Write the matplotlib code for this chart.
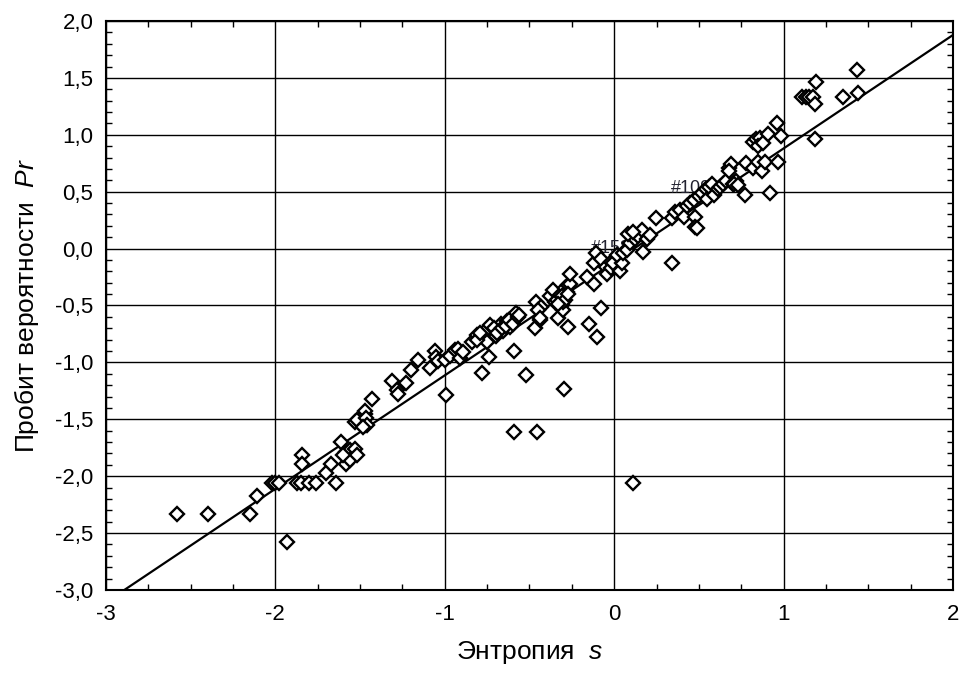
import numpy as np
import matplotlib.pyplot as plt
from matplotlib.ticker import MultipleLocator, FuncFormatter

plt.rcParams['font.family'] = ['Liberation Sans', 'DejaVu Sans']
plt.rcParams['mathtext.fontset'] = 'custom'
plt.rcParams['mathtext.it'] = 'Liberation Sans:italic'
plt.rcParams['mathtext.rm'] = 'Liberation Sans'

# entropy s (x) and probit Pr (y)
s = [-2.58, -2.40, -2.15, -2.11, -1.93,
     -2.02, -2.00, -1.98, -1.87, -1.85, -1.80, -1.76, -1.64,
     -1.84, -1.84, -1.70, -1.67,
     -1.61, -1.58, -1.56, -1.53, -1.58, -1.56, -1.52, -1.60,
     -1.53, -1.52, -1.47, -1.47, -1.47, -1.465, -1.46, -1.48,
     -1.43,
     -1.31, -1.28, -1.275, -1.23, -1.20, -1.16, -1.09,
     -1.06, -1.05, -1.04, -0.99,
     -1.00, -0.97, -0.94, -0.92, -0.91, -0.89,
     -0.84, -0.81, -0.77, -0.75, -0.74, -0.78,
     -0.73, -0.70, -0.67, -0.655, -0.635, -0.615, -0.60, -0.58,
     -0.59, -0.59,
     -0.81, -0.79, -0.71, -0.69, -0.66, -0.64, -0.62, -0.60, -0.57, -0.56,
     -0.52, -0.47, -0.44, -0.46, -0.43, -0.45, -0.455, -0.44,
     -0.38, -0.36, -0.35, -0.33,
     -0.34, -0.32, -0.31, -0.30, -0.29, -0.28, -0.27, -0.26, -0.29,
     -0.275, -0.295, -0.26,
     -0.31, -0.30, -0.33, -0.27,
     -0.16, -0.15, -0.12, -0.10, -0.08,
     -0.12, -0.11, -0.08, -0.05, -0.04, -0.02, 0.005,
     -0.016, -0.006, 0.034, 0.044, 0.014, 0.053, 0.073, 0.093, 0.123, 0.142,
     0.162, 0.172, 0.192, 0.211, 0.083, 0.113,
     0.109,
     0.247, 0.343,
     0.34, 0.36, 0.39, 0.41, 0.43, 0.45, 0.47, 0.48, 0.48, 0.49,
     0.50, 0.52, 0.54, 0.56, 0.58, 0.55, 0.59, 0.61, 0.625, 0.645, 0.66,
     0.68, 0.69, 0.70, 0.72, 0.68, 0.71, 0.73,
     0.77, 0.78, 0.82, 0.85, 0.87, 0.89, 0.92, 0.97,
     0.82, 0.84, 0.86, 0.85, 0.88, 0.91, 0.96, 0.985,
     1.185, 1.11, 1.13, 1.15, 1.175, 1.185, 1.19, 1.35, 1.435, 1.44]
pr = [-2.33, -2.33, -2.33, -2.17, -2.58,
      -2.06, -2.06, -2.06, -2.06, -2.06, -2.06, -2.06, -2.06,
      -1.81, -1.89, -1.97, -1.89,
      -1.70, -1.79, -1.77, -1.76, -1.89, -1.86, -1.81, -1.81,
      -1.52, -1.51, -1.45, -1.55, -1.43, -1.49, -1.55, -1.57,
      -1.32,
      -1.16, -1.24, -1.28, -1.18, -1.07, -0.98, -1.05,
      -0.90, -0.95, -0.99, -1.29,
      -0.98, -0.94, -0.89, -0.88, -0.96, -0.91,
      -0.82, -0.76, -0.73, -0.82, -0.95, -1.09,
      -0.67, -0.77, -0.66, -0.72, -0.64, -0.69, -0.60, -0.57,
      -0.90, -1.61,
      -0.80, -0.74, -0.70, -0.74, -0.70, -0.68, -0.63, -0.66, -0.60, -0.58,
      -1.11, -0.70, -0.63, -0.47, -0.51, -0.54, -1.61, -0.61,
      -0.42, -0.36, -0.47, -0.61,
      -0.45, -0.41, -0.50, -0.54, -0.35, -0.38, -0.32, -0.31, -0.45,
      -0.69, -1.23, -0.22,
      -0.42, -0.47, -0.49, -0.40,
      -0.25, -0.66, -0.31, -0.78, -0.52,
      -0.13, -0.04, -0.09, -0.16, -0.22, -0.12, -0.16,
      -0.17, -0.13, -0.20, -0.13, -0.06, -0.04, -0.01, 0.05, 0.08, 0.11,
      0.16, -0.03, 0.08, 0.12, 0.13, 0.15,
      -2.06,
      0.27, -0.13,
      0.27, 0.32, 0.34, 0.28, 0.37, 0.40, 0.43, 0.28, 0.19, 0.18,
      0.46, 0.49, 0.52, 0.54, 0.57, 0.44, 0.47, 0.52, 0.54, 0.57, 0.59,
      0.71, 0.74, 0.57, 0.59, 0.68, 0.57, 0.56,
      0.47, 0.75, 0.71, 0.76, 0.68, 0.76, 0.49, 0.76,
      0.94, 0.96, 0.97, 0.90, 0.93, 1.01, 1.10, 0.99,
      0.96, 1.335, 1.335, 1.335, 1.335, 1.27, 1.46, 1.335, 1.57, 1.365]

# fitted line Pr = a*s + b
fit_a = 0.997
fit_b = -0.117

point_labels = ['#109', '#158']
label_s = [0.335, -0.137]
label_pr = [0.53, 0.005]

fig = plt.figure(figsize=(9.63, 6.77), dpi=100)
ax = fig.add_axes([0.110, 0.1285, 0.8796, 0.8405])

for t, xs, ys in zip(point_labels, label_s, label_pr):
    ax.text(xs, ys, t, fontsize=13, color='#222230', ha='left', va='center', zorder=2)

xl = np.array([-3.0, 2.0])
ax.plot(xl, fit_a * xl + fit_b, color='black', lw=1.6, zorder=3)
ax.plot(s, pr, linestyle='none', marker='D', ms=7, mfc='white', mec='black', mew=1.7, zorder=4)

ax.set_xlim(-3, 2)
ax.set_ylim(-3, 2)
ax.xaxis.set_major_locator(MultipleLocator(1))
ax.xaxis.set_minor_locator(MultipleLocator(0.25))
ax.yaxis.set_major_locator(MultipleLocator(0.5))
ax.yaxis.set_minor_locator(MultipleLocator(0.1))
ax.xaxis.set_major_formatter(FuncFormatter(lambda v, p: '%d' % round(v)))
ax.yaxis.set_major_formatter(FuncFormatter(lambda v, p: ('%.1f' % v).replace('.', ',')))
ax.tick_params(which='both', direction='in', top=True, right=True, labelsize=16, color='black')
ax.tick_params(axis='x', which='major', length=0, pad=10)
ax.tick_params(axis='y', which='major', length=0, pad=9)
ax.tick_params(which='minor', length=4, width=1)
ax.grid(True, which='major', color='black', lw=1.0)
for sp in ax.spines.values():
    sp.set_linewidth(1.5)

ax.set_xlabel('Энтропия  $s$', fontsize=19, labelpad=10)
ax.set_ylabel('Пробит вероятности  $Pr$', fontsize=19, labelpad=10)

plt.savefig('out.png', dpi=100)
